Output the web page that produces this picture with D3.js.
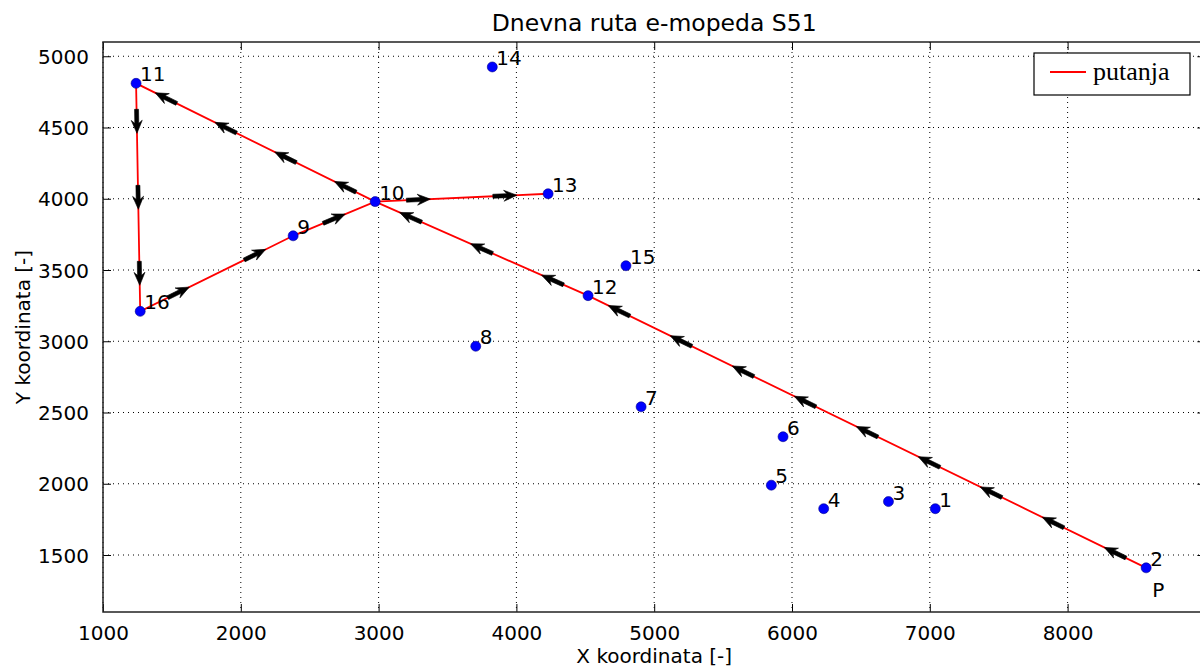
<!DOCTYPE html>
<html>
<head>
<meta charset="utf-8">
<script src="https://cdn.jsdelivr.net/npm/d3@7"></script>
<style>
  html, body { margin: 0; padding: 0; background: #fff; }
  svg { display: block; }
  text { font-family: "DejaVu Sans", sans-serif; fill: #000; }
</style>
</head>
<body>
<svg id="chart" width="1200" height="668"></svg>
<script>
// ---- data ----
const pointIds = [1, 2, 3, 4, 5, 6, 7, 8, 9, 10, 11, 12, 13, 14, 15, 16];
const pointX = [7040, 8570, 6700, 6230, 5850, 5935, 4905, 3705, 2380, 2975, 1240, 4520, 4230, 3825, 4795, 1270];
const pointY = [1825, 1410, 1875, 1825, 1990, 2330, 2540, 2965, 3740, 3980, 4810, 3320, 4035, 4925, 3530, 3210];
const routeOrder = [2, 12, 10, 11, 16, 9, 10, 13];
const startId = 2;
const startLabel = "P";
const xTicks = [1000, 2000, 3000, 4000, 5000, 6000, 7000, 8000];
const yTicks = [1500, 2000, 2500, 3000, 3500, 4000, 4500, 5000];
const titleText = "Dnevna ruta e-mopeda S51";
const xLabel = "X koordinata [-]";
const yLabel = "Y koordinata [-]";
const legendLabel = "putanja";

// ---- layout ----
const svg = d3.select("#chart");
const L = 103, T = 42, B = 612;
const x = d3.scaleLinear().domain([1000, 9000]).range([L, L + 8 * 137.8]);
const y = d3.scaleLinear().domain([1100, 5100]).range([B, T]);
const R = x.range()[1];

const pts = pointIds.map((id, i) => ({ id, x: pointX[i], y: pointY[i] }));
const byId = new Map(pts.map(p => [p.id, p]));

// grid
const grid = svg.append("g");
grid.selectAll("line.gx").data(xTicks).join("line")
  .attr("x1", d => x(d)).attr("x2", d => x(d))
  .attr("y1", T).attr("y2", B)
  .attr("stroke", "#000").attr("stroke-width", 1)
  .attr("stroke-dasharray", "1,4");
grid.selectAll("line.gy").data(yTicks).join("line")
  .attr("x1", L).attr("x2", R)
  .attr("y1", d => y(d)).attr("y2", d => y(d))
  .attr("stroke", "#000").attr("stroke-width", 1)
  .attr("stroke-dasharray", "1,4");

// axes (inward ticks, classic style)
const tickLen = 8;
const xb = svg.append("g").attr("transform", `translate(0,${B})`)
  .call(d3.axisBottom(x).tickValues(xTicks).tickSizeInner(-tickLen).tickSizeOuter(0).tickPadding(14).tickFormat(d3.format("d")));
const xt = svg.append("g").attr("transform", `translate(0,${T})`)
  .call(d3.axisTop(x).tickValues(xTicks).tickSizeInner(-tickLen).tickSizeOuter(0).tickFormat(""));
const yl = svg.append("g").attr("transform", `translate(${L},0)`)
  .call(d3.axisLeft(y).tickValues(yTicks).tickSizeInner(-tickLen).tickSizeOuter(0).tickPadding(14).tickFormat(d3.format("d")));
const yr = svg.append("g").attr("transform", `translate(${R},0)`)
  .call(d3.axisRight(y).tickValues(yTicks).tickSizeInner(-tickLen).tickSizeOuter(0).tickFormat(""));
[xb, xt, yl, yr].forEach(g => {
  g.select(".domain").remove();
  g.selectAll(".tick line").attr("stroke", "#000").attr("stroke-width", 1);
  g.selectAll(".tick text").attr("font-family", "DejaVu Sans").attr("font-size", 20).attr("fill", "#000");
});
xb.selectAll(".tick text").attr("dy", "0.71em");
yl.selectAll(".tick text").attr("dy", "0.36em");

// frame
svg.append("rect").attr("x", L).attr("y", T).attr("width", R - L).attr("height", B - T)
  .attr("fill", "none").attr("stroke", "#222").attr("stroke-width", 1.5);

// route
const route = routeOrder.map(id => byId.get(id));
svg.append("path").datum(route)
  .attr("d", d3.line().x(d => x(d.x)).y(d => y(d.y)))
  .attr("fill", "none").attr("stroke", "#ff0000").attr("stroke-width", 1.8);

// arrows along route segments
const arrows = [];
for (let i = 0; i < route.length - 1; i++) {
  const a = route[i], b = route[i + 1];
  const x0 = x(a.x), y0 = y(a.y), x1 = x(b.x), y1 = y(b.y);
  const len = Math.hypot(x1 - x0, y1 - y0);
  const n = Math.max(1, Math.round(len / 70));
  const ang = Math.atan2(y1 - y0, x1 - x0) * 180 / Math.PI;
  for (let k = 0; k < n; k++) {
    const t = (k + 0.5) / n;
    arrows.push({ cx: x0 + (x1 - x0) * t, cy: y0 + (y1 - y0) * t, ang });
  }
}
const arrowShape = "M-12,-2 L2,-2 L-1,-5.5 L12,0 L-1,5.5 L2,2 L-12,2 Z";
svg.append("g").selectAll("path").data(arrows).join("path")
  .attr("d", arrowShape)
  .attr("transform", d => `translate(${d.cx},${d.cy}) rotate(${d.ang})`)
  .attr("fill", "#000").attr("stroke", "#000").attr("stroke-width", 0.6);

// points
svg.append("g").selectAll("circle").data(pts).join("circle")
  .attr("cx", d => x(d.x)).attr("cy", d => y(d.y)).attr("r", 5)
  .attr("fill", "#0000ff").attr("stroke", "#00008b").attr("stroke-width", 0.6);

// point labels
svg.append("g").selectAll("text").data(pts).join("text")
  .attr("x", d => x(d.x) + 4).attr("y", d => y(d.y) - 2)
  .attr("font-size", 20).text(d => d.id);
const sp = byId.get(startId);
svg.append("text").attr("x", x(sp.x) + 6).attr("y", y(sp.y) + 29)
  .attr("font-size", 20).text(startLabel);

// title & axis labels
const cx = (L + R) / 2;
svg.append("text").attr("x", cx).attr("y", 31).attr("text-anchor", "middle")
  .attr("font-size", 23.5).text(titleText);
svg.append("text").attr("x", cx).attr("y", 663).attr("text-anchor", "middle")
  .attr("font-size", 20).text(xLabel);
svg.append("text").attr("transform", `translate(30,${(T + B) / 2}) rotate(-90)`)
  .attr("text-anchor", "middle").attr("font-size", 20).text(yLabel);

// legend
const lg = svg.append("g");
lg.append("rect").attr("x", 1034).attr("y", 53).attr("width", 156).attr("height", 42)
  .attr("fill", "#fff").attr("stroke", "#000").attr("stroke-width", 1.2);
lg.append("line").attr("x1", 1050).attr("x2", 1086).attr("y1", 72).attr("y2", 72)
  .attr("stroke", "#ff0000").attr("stroke-width", 1.8);
lg.append("text").attr("x", 1093).attr("y", 80)
  .attr("style", "font-family: 'Liberation Serif', serif").attr("font-size", 26).text(legendLabel);
</script>
</body>
</html>
